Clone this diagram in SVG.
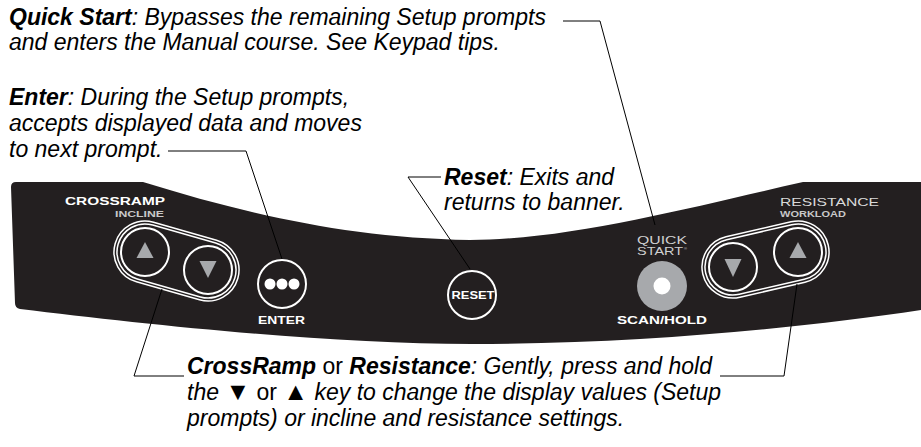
<svg xmlns="http://www.w3.org/2000/svg" width="921" height="447" viewBox="0 0 921 447">
  <style>
    .t { font-family: "Liberation Sans", Arial, sans-serif; font-size: 23px; font-style: italic; fill: #000; }
    .b { font-weight: bold; }
    .u { font-style: normal; }
    .g { font-style: normal; font-size: 25px; }
    .lbl { font-family: "Liberation Sans", Arial, sans-serif; }
    .key { fill: none; stroke: #fff; stroke-width: 2; }
    .cap { fill: none; stroke: #fff; stroke-width: 1.5; }
    .tri { fill: #a7a9ac; }
    .lead { fill: none; stroke: #000; stroke-width: 1; }
  </style>
  <rect width="921" height="447" fill="#fff"/>

  <g id="panel">
    <path d="M11,187 Q11,182 16,182 L143,182 C250,215 350,238 470,240 C570,240 700,205 803,182 L921,182 L921,310 C800,328 640,344 472,344 C330,344 150,325 20,309 Q15,308 15,303 Z" fill="#231f20"/>
  </g>

  <g id="crossramp-keys">
    <text class="lbl" x="65" y="205" font-size="11.5" font-weight="bold" fill="#fff" textLength="100" lengthAdjust="spacingAndGlyphs">CROSSRAMP</text>
    <text class="lbl" x="115" y="216.5" font-size="8.5" font-weight="bold" fill="#c8c8c8" textLength="49" lengthAdjust="spacingAndGlyphs">INCLINE</text>
    <rect class="cap" x="115.75" y="233" width="121.5" height="56" rx="28" transform="rotate(15.96 176.5 261)"/>
    <rect class="cap" x="112.75" y="230" width="127.5" height="62" rx="31" transform="rotate(15.96 176.5 261)"/>
    <g id="crossramp-up">
      <circle class="key" cx="145" cy="252" r="24"/>
      <polygon class="tri" points="145,242 136.5,258 153.5,258"/>
    </g>
    <g id="crossramp-down">
      <circle class="key" cx="208" cy="270" r="24"/>
      <polygon class="tri" points="199.5,261 216.5,261 208,278"/>
    </g>
  </g>

  <g id="enter-key">
    <circle class="key" cx="282" cy="284" r="24"/>
    <circle cx="270" cy="284" r="5.5" fill="#fff"/>
    <circle cx="282" cy="284" r="5.5" fill="#fff"/>
    <circle cx="294" cy="284" r="5.5" fill="#fff"/>
    <text class="lbl" x="258" y="324" font-size="11" font-weight="bold" fill="#fff" textLength="47" lengthAdjust="spacingAndGlyphs">ENTER</text>
  </g>

  <g id="reset-key">
    <circle class="key" cx="472" cy="295" r="24"/>
    <text class="lbl" x="451.5" y="299" font-size="10.5" font-weight="bold" fill="#fff" textLength="43" lengthAdjust="spacingAndGlyphs">RESET</text>
  </g>

  <g id="quickstart-key">
    <text class="lbl" x="637" y="244" font-size="10.5" fill="#d0d0d0" textLength="50" lengthAdjust="spacingAndGlyphs">QUICK</text>
    <text class="lbl" x="637" y="255" font-size="10.5" fill="#d0d0d0" textLength="46" lengthAdjust="spacingAndGlyphs">START</text>
    <text class="lbl" x="684" y="250" font-size="4" fill="#d0d0d0">®</text>
    <circle cx="662" cy="286" r="25" fill="#a7a9ac"/>
    <circle cx="662" cy="286" r="8.5" fill="#fff"/>
    <text class="lbl" x="617" y="324" font-size="11" font-weight="bold" fill="#fff" textLength="90" lengthAdjust="spacingAndGlyphs">SCAN/HOLD</text>
  </g>

  <g id="resistance-keys">
    <text class="lbl" x="780" y="206" font-size="11.5" fill="#d9d9d9" textLength="99" lengthAdjust="spacingAndGlyphs">RESISTANCE</text>
    <text class="lbl" x="780" y="216.5" font-size="8.5" font-weight="bold" fill="#c8c8c8" textLength="66" lengthAdjust="spacingAndGlyphs">WORKLOAD</text>
    <rect class="cap" x="704.15" y="231.5" width="122.7" height="56" rx="28" transform="rotate(-12.99 765.5 259.5)"/>
    <rect class="cap" x="701.15" y="228.5" width="128.7" height="62" rx="31" transform="rotate(-12.99 765.5 259.5)"/>
    <g id="resistance-down">
      <circle class="key" cx="733" cy="267" r="24"/>
      <polygon class="tri" points="724.5,259 741.5,259 733,277"/>
    </g>
    <g id="resistance-up">
      <circle class="key" cx="798" cy="252" r="24"/>
      <polygon class="tri" points="798,242 789.5,258 806.5,258"/>
    </g>
  </g>

  <g id="connectors">
    <path class="lead" d="M563,21 H600 L655,225"/>
    <path class="lead" d="M168,151 H246 L282,259"/>
    <path class="lead" d="M441,177 H408 L470,269"/>
    <path class="lead" d="M184,376 H134 L162,289"/>
    <path class="lead" d="M720,376 H784 L797,284"/>
  </g>

  <g id="note-quickstart">
    <text class="t" x="9" y="25"><tspan class="b">Quick Start</tspan>: Bypasses the remaining Setup prompts</text>
    <text class="t" x="9" y="50">and enters the Manual course. See Keypad tips.</text>
  </g>
  <g id="note-enter">
    <text class="t" x="9" y="105"><tspan class="b">Enter</tspan>: During the Setup prompts,</text>
    <text class="t" x="9" y="131">accepts displayed data and moves</text>
    <text class="t" x="9" y="157">to next prompt.</text>
  </g>
  <g id="note-reset">
    <text class="t" x="444" y="185"><tspan class="b">Reset</tspan>: Exits and</text>
    <text class="t" x="444" y="210">returns to banner.</text>
  </g>
  <g id="note-keys">
    <text class="t" x="187" y="374"><tspan class="b">CrossRamp</tspan><tspan class="u"> or </tspan><tspan class="b">Resistance</tspan>: Gently, press and hold</text>
    <text class="t" x="187" y="400">the <tspan class="g">▼</tspan><tspan class="u"> or </tspan><tspan class="g">▲</tspan> key to change the display values (Setup</text>
    <text class="t" x="187" y="426">prompts) or incline and resistance settings.</text>
  </g>
</svg>
